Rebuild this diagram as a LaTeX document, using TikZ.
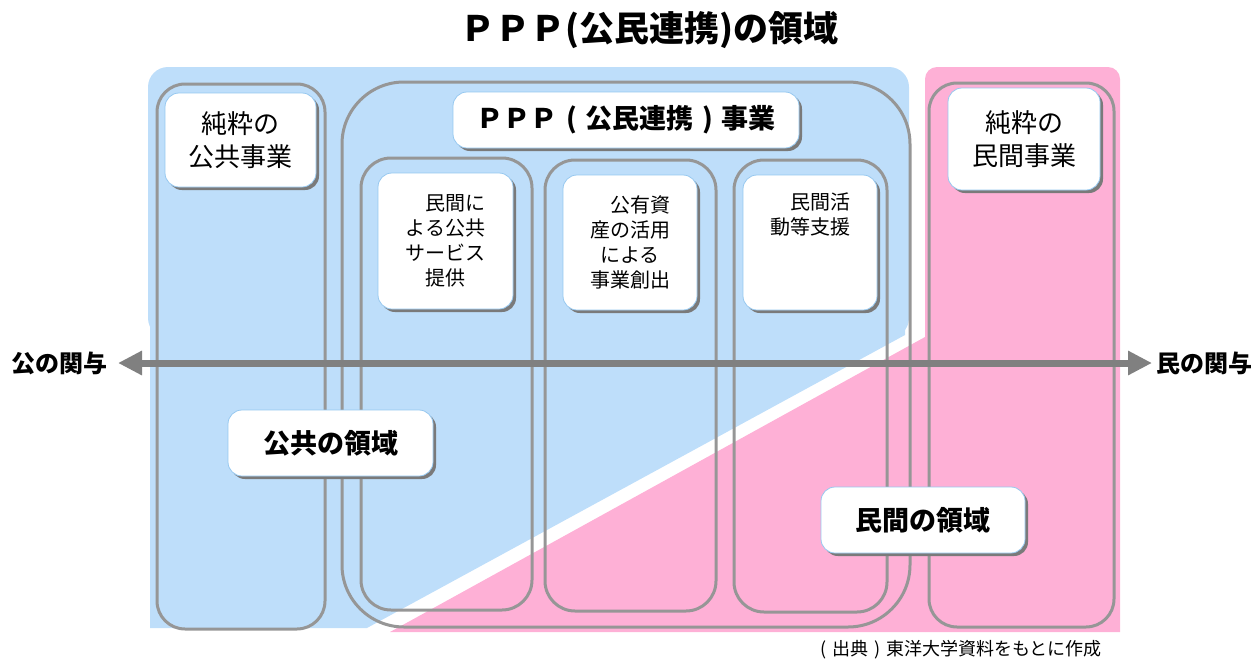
\documentclass[tikz,border=0pt]{standalone}
\usepackage{fontspec}
\setmainfont{Noto Sans CJK JP}
\usetikzlibrary{arrows.meta,shadows}
\definecolor{bluebg}{RGB}{190,222,250}
\definecolor{pinkbg}{RGB}{254,176,214}
\definecolor{outl}{RGB}{150,150,150}
\definecolor{arrc}{RGB}{128,128,128}
\definecolor{lblborder}{RGB}{150,200,240}
\newcommand{\cparen}[2]{\makebox[#1]{#2}}
\begin{document}
\begin{tikzpicture}[x=1pt,y=-1pt,
  grp/.style={draw=outl, line width=3pt, rounded corners=#1},
  lbl/.style={draw=lblborder, line width=0.8pt, fill=white, rounded corners=14pt,
    general shadow={fill=black!52, shadow xshift=3pt, shadow yshift=-3pt},
    inner sep=0pt, align=center},
  smalltxt/.style={font=\fontsize{20}{25}\selectfont},
  bigtxt/.style={font=\fontsize{26}{33}\selectfont},
  boldtxt/.style={font=\fontsize{27}{33}\selectfont\bfseries},
  axislbl/.style={font=\fontsize{24}{28}\selectfont\bfseries, inner sep=0pt},
  axis/.style={draw=arrc, line width=7pt, {Triangle[length=24pt,width=23pt]}-{Triangle[length=24pt,width=23pt]}}
]
\useasboundingbox (0,0) rectangle (1254,659);
% backgrounds
\fill[bluebg, rounded corners=20pt] (148,67) rectangle (909,338);
\fill[bluebg] (150,320) -- (150,628) -- (367,628) -- (905,335) -- (905,320) -- cycle;
\fill[pinkbg] (925,632) [rounded corners=12pt] -- (925,67) -- (1120,67) [sharp corners] -- (1120,632) -- cycle;
\fill[pinkbg] (390,632) -- (925,337) -- (925,632) -- cycle;
% group outlines
\draw[grp=28pt] (157,84) rectangle (325,629);
\draw[grp=62pt] (342,82) rectangle (910,627);
\draw[grp=30pt] (361,158) rectangle (532,610);
\draw[grp=30pt] (545,160) rectangle (716,611);
\draw[grp=30pt] (734,160) rectangle (887,612);
\draw[grp=28pt] (929,83) rectangle (1114,627);
% axis
\coordinate (ArL) at (118,363);
\coordinate (ArR) at (1152,363);
\draw[axis] (ArL) -- (ArR);
\node[axislbl, anchor=east] (kou) at (108,363) {公の関与};
\node[axislbl, anchor=west] (min) at (1156,363) {民の関与};
% title
\node[font=\fontsize{35}{40}\selectfont\bfseries] (title) at (649,30) {ＰＰＰ(公民連携)の領域};
% labels
\node[lbl, bigtxt, minimum width=151pt, minimum height=94pt] (pubpure) at (240.5,140) {純粋の\\公共事業};
\node[lbl, boldtxt, minimum width=346pt, minimum height=56pt] (ppp) at (626,120) {ＰＰＰ\cparen{28pt}{(}公民連携\cparen{28pt}{)}事業};
\node[lbl, smalltxt, minimum width=135pt, minimum height=136pt] (c1) at (445.5,241) {　民間に\\よる公共\\サービス\\提供};
\node[lbl, smalltxt, minimum width=134pt, minimum height=135pt] (c2) at (630,242.5) {　公有資\\産の活用\\による\\事業創出};
\node[lbl, smalltxt, minimum width=134pt, minimum height=135pt] (c3) at (810,242.5) {　民間活\\動等支援\\\strut\\\strut};
\node[lbl, bigtxt, minimum width=152pt, minimum height=102pt] (privpure) at (1024,139) {純粋の\\民間事業};
\node[lbl, boldtxt, minimum width=205pt, minimum height=66pt] (pubdom) at (330.5,443) {公共の領域};
\node[lbl, boldtxt, minimum width=204pt, minimum height=66pt] (privdom) at (923,520) {民間の領域};
% source
\node[font=\fontsize{18}{20}\selectfont, inner sep=0pt] (src) at (958,650) {\cparen{18pt}{(}出典\cparen{18pt}{)}東洋大学資料をもとに作成};
\end{tikzpicture}
\end{document}
